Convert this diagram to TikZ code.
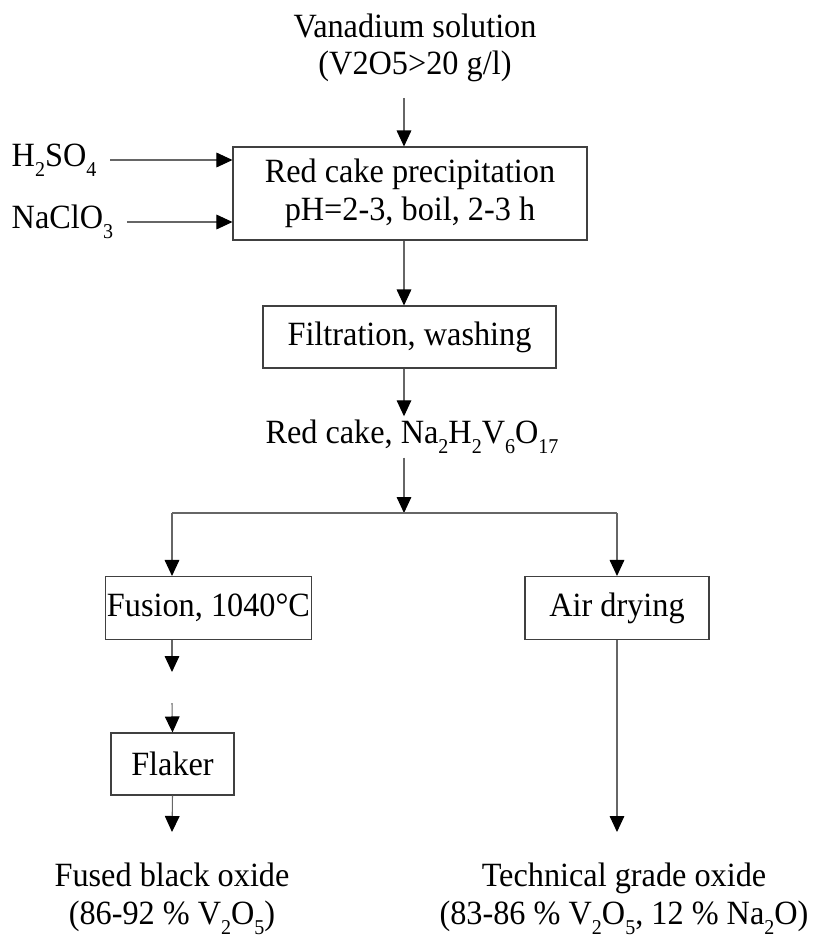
\documentclass[tikz,border=0pt]{standalone}
\usepackage{fontspec}
\setmainfont{Liberation Serif}[FakeStretch=0.95]
\usetikzlibrary{arrows.meta}

\newcommand\chemsub[1]{\raisebox{-0.3em}{\fontsize{18}{18}\selectfont #1}}

\tikzset{
  txt/.style={font=\fontsize{29}{32}\selectfont, align=center, inner sep=3pt},
  box/.style={txt, inner xsep=1pt, draw=black!75, line width=0.9pt},
  line/.style={draw=black!60, line width=0.9pt},
  flow/.style={line, -{Triangle[length=0.48cm,width=0.44cm,color=black]}},
}

\begin{document}
\begin{tikzpicture}[x=0.03cm,y=-0.03cm]
   \useasboundingbox (0,0) rectangle (827,946);

   % main line
   \node[txt] (vsol) at (415,48) {Vanadium solution\\(V2O5>20 g/l)};
   \node[box, minimum width=10.62cm, minimum height=2.79cm] (prec) at (410,193.5)
        {\fontsize{29}{35}\selectfont Red cake precipitation\\pH=2-3, boil, 2-3 h};
   \node[txt, anchor=west] (acid) at (8,160) {H\chemsub{2}SO\chemsub{4}};
   \node[txt, anchor=west] (chlor) at (8,222) {NaClO\chemsub{3}};
   \node[box, minimum width=8.79cm, minimum height=1.86cm] (filt) at (409.5,337) {Filtration, washing};
   \node[txt] (cake) at (412,437) {Red cake, Na\chemsub{2}H\chemsub{2}V\chemsub{6}O\chemsub{17}};

   % branches
   \node[box, minimum width=6.09cm, minimum height=1.89cm] (fusion) at (208.5,608) {Fusion, 1040°C};
   \node[box, minimum width=5.52cm, minimum height=1.89cm] (air) at (617,608) {Air drying};
   \node[box, minimum width=3.69cm, minimum height=1.86cm] (flaker) at (172.5,764) {Flaker};
   \node[txt] (fused) at (172,899) {Fused black oxide\\(86-92 \% V\chemsub{2}O\chemsub{5})};
   \node[txt] (tech) at (624,899) {Technical grade oxide\\(83-86 \% V\chemsub{2}O\chemsub{5}, 12 \% Na\chemsub{2}O)};

   \coordinate (split) at (404,513);
   \coordinate (lft) at (172,513);
   \coordinate (rgt) at (617,513);
   \coordinate (gapA) at (172,672);
   \coordinate (gapB) at (172,703);
   \coordinate (endL) at (172,832);
   \coordinate (endR) at (617,832);

   \draw[flow] (split |- vsol.south) ++(0,12) coordinate (v0) (v0) -- (v0 |- prec.north);
   \draw[flow] (acid.east) ++(10,0) coordinate (a0) (a0) -- (a0 -| prec.west);
   \draw[flow] (chlor.east) ++(10,0) coordinate (c0) (c0) -- (c0 -| prec.west);
   \draw[flow] (prec.south -| split) -- (filt.north -| split);
   \draw[flow] (filt.south -| split) -- (cake.north -| split);
   \draw[flow] (cake.south -| split) -- (split);
   \draw[line] (lft) -- (rgt);
   \draw[flow] (lft) -- (fusion.north -| lft);
   \draw[flow] (rgt) -- (air.north -| rgt);
   \draw[flow] (fusion.south -| gapA) -- (gapA);
   \draw[flow] (gapB) -- (flaker.north);
   \draw[flow] (flaker.south) -- (endL);
   \draw[flow] (air.south -| endR) -- (endR);
\end{tikzpicture}
\end{document}
